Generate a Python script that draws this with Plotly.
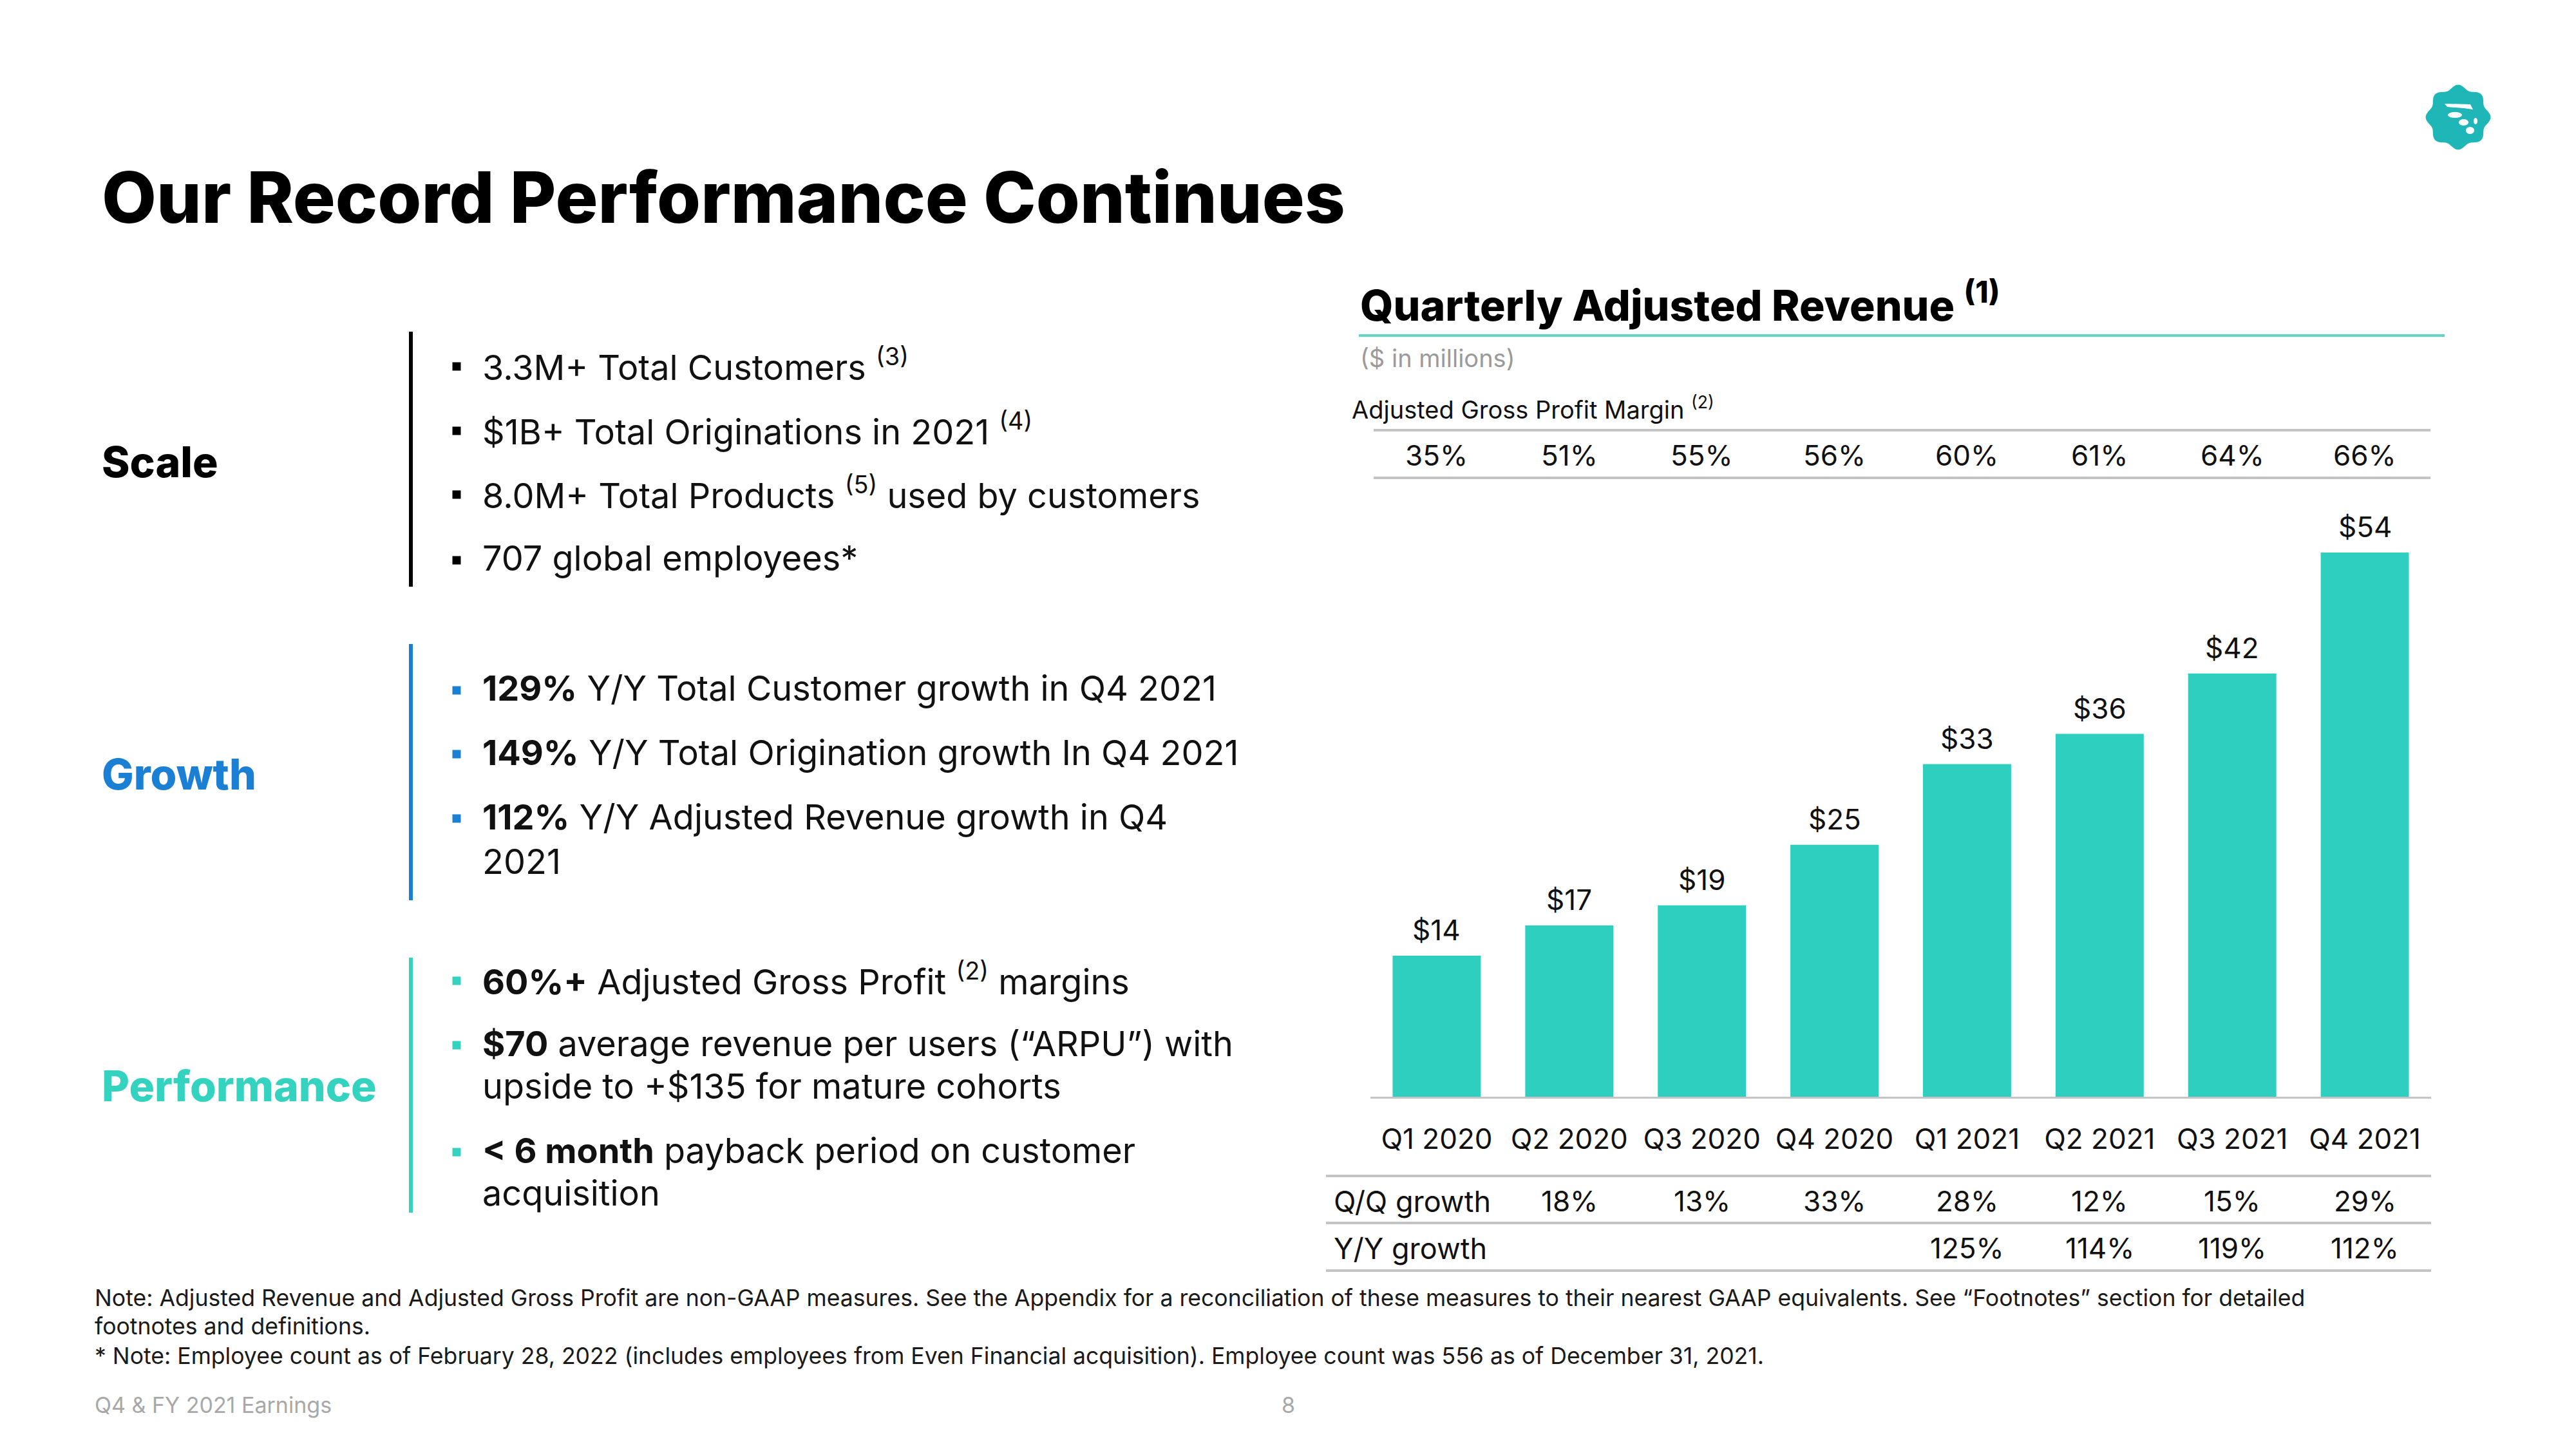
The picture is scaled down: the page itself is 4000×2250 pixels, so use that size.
import math
import plotly.graph_objects as go

W, H = 4000, 2250

# ---------------- data ----------------
quarters = ["Q1 2020", "Q2 2020", "Q3 2020", "Q4 2020",
            "Q1 2021", "Q2 2021", "Q3 2021", "Q4 2021"]
revenue = [14, 17, 19, 25, 33, 36, 42, 54]
gp_margin = [35, 51, 55, 56, 60, 61, 64, 66]
qq_growth = [None, 18, 13, 33, 28, 12, 15, 29]
yy_growth = [None, None, None, None, 125, 114, 119, 112]

scale_lines = ["3.3M+ Total Customers <sup>(3)</sup>",
               "$1B+ Total Originations in 2021 <sup>(4)</sup>",
               "8.0M+ Total Products <sup>(5)</sup> used by customers",
               "707 global employees*"]
scale_bullets = [True, True, True, True]
growth_lines = ["<b>129%</b> Y/Y Total Customer growth in Q4 2021",
                "<b>149%</b> Y/Y Total Origination growth In Q4 2021",
                "<b>112%</b> Y/Y Adjusted Revenue growth in Q4",
                "2021"]
growth_bullets = [True, True, True, False]
perf_lines = ["<b>60%+</b> Adjusted Gross Profit <sup>(2)</sup> margins",
              "<b>$70</b> average revenue per users (“ARPU”) with",
              "upside to +$135 for mature cohorts",
              "<b>&lt; 6 month</b> payback period on customer",
              "acquisition"]
perf_bullets = [True, True, False, True, False]

footnotes = ["Note: Adjusted Revenue and Adjusted Gross Profit are non-GAAP measures. See the Appendix for a reconciliation of these measures to their nearest GAAP equivalents. See “Footnotes” section for detailed",
             "footnotes and definitions.",
             "* Note: Employee count as of February 28, 2022 (includes employees from Even Financial acquisition). Employee count was 556 as of December 31, 2021."]

# ---------------- styles ----------------
TEAL_BAR = "#2ecfbf"
TEAL_TXT = "#33d3bf"
TEAL_LINE = "#5fd6c6"
BLUE = "#1b80d3"
LOGO = "#1fb6b8"
GRID = "#c4c4c4"
INK = "#111111"
FONT = "Inter"


def px(x):
    return x / W


def py(y):
    return 1 - y / H


annotations = []
shapes = []


def txt(x, y, s, size, color=INK, weight=400, xanchor="left", xref="paper", yref="paper", yshift=0):
    annotations.append(dict(
        x=x if xref != "paper" else px(x), y=y if yref != "paper" else py(y),
        xref=xref, yref=yref, text=s, showarrow=False, xanchor=xanchor, yanchor="middle",
        yshift=yshift, font=dict(family=FONT, size=size, color=color, weight=weight)))


def hline(x0, x1, y, color, width):
    shapes.append(dict(type="line", xref="paper", yref="paper", x0=px(x0), x1=px(x1),
                       y0=py(y), y1=py(y), line=dict(color=color, width=width)))


def vline(x, y0, y1, color, width):
    shapes.append(dict(type="line", xref="paper", yref="paper", x0=px(x), x1=px(x),
                       y0=py(y0), y1=py(y1), line=dict(color=color, width=width)))


def square(cx, cy, s, color):
    shapes.append(dict(type="rect", xref="paper", yref="paper", x0=px(cx - s / 2), x1=px(cx + s / 2),
                       y0=py(cy - s / 2), y1=py(cy + s / 2), fillcolor=color, line=dict(width=0)))


def ellipse(x0, y0, x1, y1, color):
    shapes.append(dict(type="circle", xref="paper", yref="paper", x0=px(x0), x1=px(x1),
                       y0=py(y0), y1=py(y1), fillcolor=color, line=dict(width=0)))


# ---------------- title ----------------
txt(156, 306, "Our Record Performance Continues", 110, "#000000", 800)

# ---------------- logo ----------------
cx, cy, R = 3817, 182, 47
pts = []
for i in range(97):
    t = 2 * math.pi * i / 96
    r = R + 3.5 * math.cos(8 * t)
    pts.append((px(cx + r * math.cos(t)), py(cy + r * math.sin(t))))
path = "M " + " L ".join(f"{a:.6f},{b:.6f}" for a, b in pts) + " Z"
shapes.append(dict(type="path", xref="paper", yref="paper", path=path, fillcolor=LOGO, line=dict(width=0)))
shapes.append(dict(type="path", xref="paper", yref="paper",
                   path=f"M {px(3796)},{py(161)} L {px(3836)},{py(162)} L {px(3840)},{py(170)} L {px(3826)},{py(168)} L {px(3800)},{py(166)} Z",
                   fillcolor="white", line=dict(width=0)))
ellipse(3801, 174, 3823, 183, "white")
ellipse(3818, 185, 3833, 195, "white")
ellipse(3829, 197, 3842, 208, "white")
ellipse(3841, 183, 3847, 193, "white")

# ---------------- left panel ----------------
LBL_X, LINE_X, BUL_X, TXT_X = 156, 638, 709, 747
BODY = 54

txt(LBL_X, 717, "Scale", 66, "#000000", 800)
txt(LBL_X, 1202, "Growth", 66, BLUE, 800)
txt(LBL_X, 1686, "Performance", 66, TEAL_TXT, 800)

vline(LINE_X, 515, 911, "#000000", 6)
vline(LINE_X, 1000, 1398, BLUE, 6)
vline(LINE_X, 1487, 1883, TEAL_TXT, 6)

groups = [(scale_lines, scale_bullets, [566, 666, 765, 867], "#000000"),
          (growth_lines, growth_bullets, [1069, 1168, 1268, 1337], BLUE),
          (perf_lines, perf_bullets, [1520, 1620, 1686, 1786, 1852], TEAL_TXT)]
for lines, bullets, ys, col in groups:
    for s, b, y in zip(lines, bullets, ys):
        txt(TXT_X, y, s, BODY, INK, 400)
        if b:
            square(BUL_X, y + 3, 13, col)

# ---------------- chart header ----------------
txt(2110, 469, "Quarterly Adjusted Revenue <sup>(1)</sup>", 66, "#000000", 800)
hline(2110, 3796, 521, TEAL_LINE, 4)
txt(2110, 556, "($ in millions)", 38, "#9a9a9a", 400)
txt(2097, 633, "Adjusted Gross Profit Margin <sup>(2)</sup>", 38, INK, 400)
hline(2133, 3774, 668, GRID, 4)
hline(2133, 3774, 742, GRID, 4)
for q, m in zip(quarters, gp_margin):
    txt(q, 707, f"{m}%", 44, INK, 400, xanchor="center", xref="x")

# ---------------- bars ----------------
fig = go.Figure()
fig.add_trace(go.Bar(x=quarters, y=revenue, marker=dict(color=TEAL_BAR, line=dict(width=0)),
                     hoverinfo="skip", showlegend=False))
for q, v in zip(quarters, revenue):
    txt(q, v, f"${v}", 44, INK, 400, xanchor="center", xref="x", yref="y", yshift=40)

# ---------------- growth table ----------------
hline(2059, 3775, 1826, GRID, 4)
hline(2059, 3775, 1899, GRID, 4)
hline(2059, 3775, 1973, GRID, 4)
txt(2069, 1865, "Q/Q growth", 45, INK)
txt(2069, 1938, "Y/Y growth", 45, INK)
for q, g in zip(quarters, qq_growth):
    if g is not None:
        txt(q, 1865, f"{g}%", 44, INK, 400, xanchor="center", xref="x")
for q, g in zip(quarters, yy_growth):
    if g is not None:
        txt(q, 1938, f"{g}%", 44, INK, 400, xanchor="center", xref="x")

# ---------------- footnotes ----------------
for s, y in zip(footnotes, [2015, 2059, 2105]):
    txt(145, y, s, 35.6, "#1a1a1a", 400)
txt(145, 2181, "Q4 &amp; FY 2021 Earnings", 34, "#a8a8a8", 400)
txt(2000, 2181, "8", 34, "#a8a8a8", 400, xanchor="center")

fig.update_layout(
    width=W, height=H, margin=dict(l=0, r=0, t=0, b=0),
    paper_bgcolor="white", plot_bgcolor="white",
    bargap=0.335, showlegend=False,
    xaxis=dict(type="category", domain=[2128 / W, 3775 / W], range=[-0.5, 7.5],
               showline=True, linecolor=GRID, linewidth=3, ticks="", showgrid=False,
               zeroline=False, tickfont=dict(family=FONT, size=44, color=INK),
               ticklabelstandoff=25, fixedrange=True),
    yaxis=dict(range=[0, 60], domain=[py(1703), py(764)], visible=False, fixedrange=True),
    annotations=annotations, shapes=shapes,
)
fig.write_html("out.html", config={"displayModeBar": False, "staticPlot": True})

# remove the browser's default page margin so the figure sits at (0, 0)
with open("out.html", "r", encoding="utf-8") as f:
    html = f.read()
html = html.replace("<head>", "<head><style>html,body{margin:0;padding:0;overflow:hidden;}</style>", 1)
with open("out.html", "w", encoding="utf-8") as f:
    f.write(html)
